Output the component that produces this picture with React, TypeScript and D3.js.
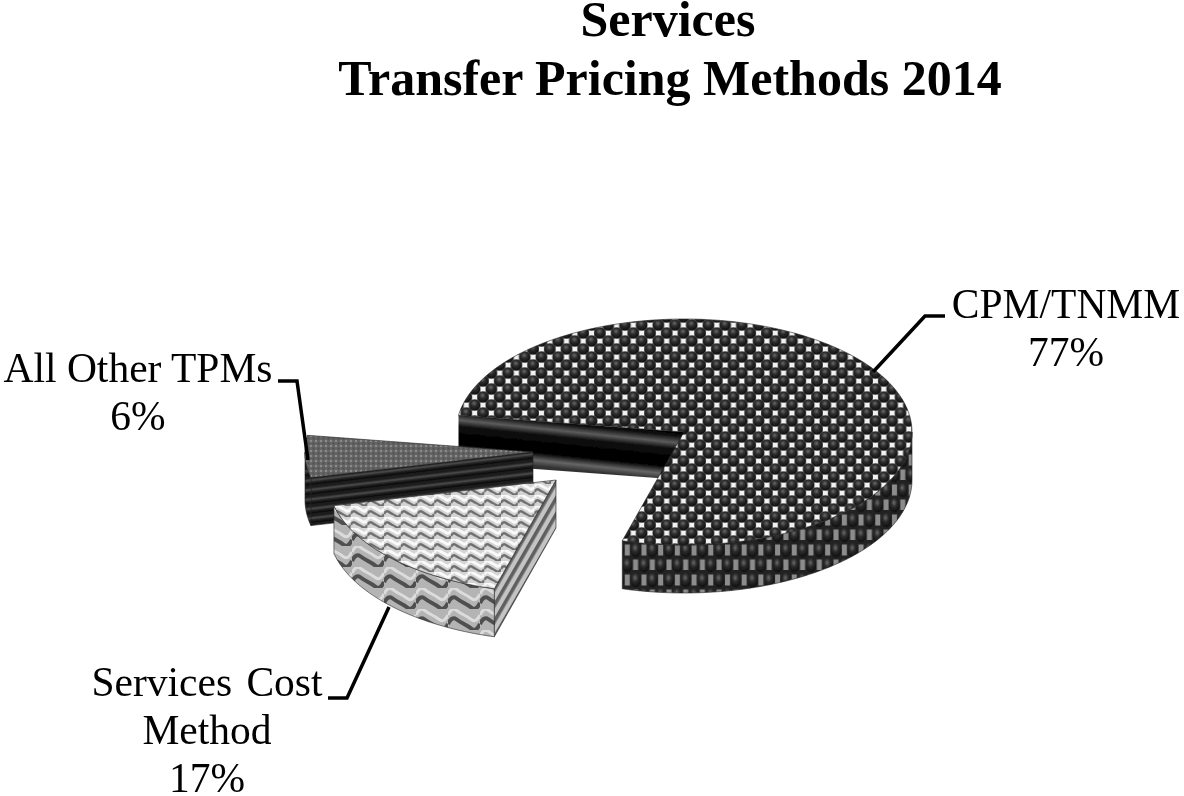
import React from "react";
import * as d3 from "d3";

const categories = ["CPM/TNMM", "Services Cost Method", "All Other TPMs"];
const shares = [77, 17, 6];
const titleLines = ["Services", "Transfer Pricing Methods 2014"];

const rad = Math.PI / 180;
const cx = 684, cy = 432, rx = 228, ry = 113, depth = 48;
const offsets = [[0, 0], [-128, 48], [-151, 20]];
const topFill = ["url(#dotTop)", "url(#waveTop)", "url(#fineTop)"];
const sideFill = ["url(#dotSide)", "url(#waveSide)", "url(#ribSide)"];
const cutFill = ["url(#cutBands)", "url(#cutStripes)", "url(#ribSide)"];
const drawOrder = [0, 2, 1];
const serif = "'Liberation Serif', 'Times New Roman', serif";

const pie = d3.pie<number>().sort(null).startAngle(-81.5 * rad).endAngle(278.5 * rad);
const slices = pie(shares);
const line = d3.line();

const rim = (a: number, ox: number, oy: number, dz = 0): [number, number] => [
  cx + ox + rx * Math.sin(a),
  cy + oy - ry * Math.cos(a) + dz,
];
const sweep = (a0: number, a1: number, ox: number, oy: number, dz = 0) => {
  const n = Math.max(2, Math.ceil((a1 - a0) / (1 * rad)));
  return d3.range(n + 1).map((i) => rim(a0 + ((a1 - a0) * i) / n, ox, oy, dz));
};

const labels = [
  { lines: ["CPM/TNMM", "77%"], x: 1066, y: 318, leader: [[873, 372], [925, 316], [945, 316]] },
  { lines: ["All Other TPMs", "6%"], x: 138, y: 382, leader: [[308, 460], [297, 381], [278, 381]] },
  { lines: ["Services Cost", "Method", "17%"], x: 207, y: 696, leader: [[389, 607], [347, 698], [328, 698]] },
];

export default function App() {
  const wave = (y: number, w: number, a: number) =>
    `M0 ${y} Q${w / 8} ${y - a * 1.6} ${w / 4} ${y - a} T${w / 2} ${y} T${(3 * w) / 4} ${y + a} T${w} ${y}`;
  return (
    <svg width={1184} height={796} style={{ position: "absolute", left: 0, top: 0, background: "#fff" }}>
      <defs>
        <filter id="soft" x="0" y="0" width="100%" height="100%" filterUnits="objectBoundingBox">
          <feGaussianBlur stdDeviation={0.7} />
        </filter>
        <radialGradient id="ball" cx="45%" cy="35%" r="60%">
          <stop offset="0" stopColor="#6a6a6a" />
          <stop offset="0.45" stopColor="#2c2c2c" />
          <stop offset="1" stopColor="#111" />
        </radialGradient>
        <pattern id="dotTop" width={16.7} height={16} patternUnits="userSpaceOnUse" patternTransform="translate(15.4,5)">
          <rect width={16.7} height={16} fill="#5a5a5a" />
          <rect x={-2.5} y={-2.5} width={5} height={5} fill="#f2f2f2" />
          <rect x={14.2} y={-2.5} width={5} height={5} fill="#f2f2f2" />
          <rect x={-2.5} y={13.5} width={5} height={5} fill="#f2f2f2" />
          <rect x={14.2} y={13.5} width={5} height={5} fill="#f2f2f2" />
          <rect x={5.85} y={5.5} width={5} height={5} fill="#f2f2f2" />
          <circle cx={8.35} cy={0} r={5.6} fill="url(#ball)" />
          <circle cx={8.35} cy={16} r={5.6} fill="url(#ball)" />
          <circle cx={0} cy={8} r={5.6} fill="url(#ball)" />
          <circle cx={16.7} cy={8} r={5.6} fill="url(#ball)" />
        </pattern>
        <pattern id="dotSide" width={16.7} height={30} patternUnits="userSpaceOnUse">
          <rect width={16.7} height={30} fill="#242424" />
          <rect x={6.9} y={4.5} width={5} height={11} fill="#8c8c8c" />
          <rect x={-1.5} y={19.5} width={5} height={11} fill="#8c8c8c" />
          <rect x={15.2} y={19.5} width={5} height={11} fill="#8c8c8c" />
          <ellipse cx={1} cy={10} rx={5.2} ry={7.5} fill="url(#ball)" />
          <ellipse cx={17.7} cy={10} rx={5.2} ry={7.5} fill="url(#ball)" />
          <ellipse cx={9.4} cy={25} rx={5.2} ry={7.5} fill="url(#ball)" />
          <ellipse cx={9.4} cy={-5} rx={5.2} ry={7.5} fill="url(#ball)" />
        </pattern>
        <linearGradient id="cutBands" gradientUnits="userSpaceOnUse" x1={570} y1={421} x2={565} y2={469}>
          <stop offset="0" stopColor="#000" />
          <stop offset="0.08" stopColor="#111" />
          <stop offset="0.22" stopColor="#5c5c5c" />
          <stop offset="0.36" stopColor="#0a0a0a" />
          <stop offset="0.72" stopColor="#000" />
          <stop offset="0.88" stopColor="#666" />
          <stop offset="1" stopColor="#333" />
        </linearGradient>
        <pattern id="waveTop" width={16.7} height={11} patternUnits="userSpaceOnUse">
          <rect width={16.7} height={11} fill="#d4d4d4" />
          <path d={wave(2.5, 16.7, 2.4)} fill="none" stroke="#fafafa" strokeWidth={3} />
          <path d={wave(8, 16.7, 2.4)} fill="none" stroke="#6e6e6e" strokeWidth={2.4} />
        </pattern>
        <pattern id="waveSide" width={32} height={21} patternUnits="userSpaceOnUse">
          <rect width={32} height={21} fill="#b4b4b4" />
          <path d={wave(6, 32, 5)} fill="none" stroke="#dcdcdc" strokeWidth={3} />
          <path d={wave(15, 32, 5)} fill="none" stroke="#505050" strokeWidth={4} />
        </pattern>
        <pattern id="cutStripes" width={8} height={8} patternUnits="userSpaceOnUse" patternTransform="rotate(-60)">
          <rect width={8} height={8} fill="#c4c4c4" />
          <rect y={1} width={8} height={3.6} fill="#5e5e5e" />
        </pattern>
        <pattern id="fineTop" width={5} height={5} patternUnits="userSpaceOnUse">
          <rect width={5} height={5} fill="#656565" />
          <rect x={0} y={0} width={2} height={2} fill="#8a8a8a" />
          <rect x={2.5} y={2.5} width={2} height={2} fill="#505050" />
        </pattern>
        <pattern id="ribSide" width={10} height={9.5} patternUnits="userSpaceOnUse" patternTransform="skewY(-6.7)">
          <rect width={10} height={9.5} fill="#1e1e1e" />
          <rect y={2.5} width={10} height={2.6} fill="#444" />
          <rect y={7} width={10} height={1.6} fill="#0c0c0c" />
        </pattern>
      </defs>

      <g filter="url(#soft)">
        <rect width={1184} height={796} fill="#fff" />
        {titleLines.map((t, i) => (
          <text key={t} x={i === 0 ? 668 : 670} y={36 + i * 59} textAnchor="middle" fontFamily={serif} fontWeight="bold" fontSize={50} fill="#000">
            {t}
          </text>
        ))}

        {drawOrder.map((i) => {
          const s = slices[i];
          const [ox, oy] = offsets[i];
          const tip: [number, number] = [cx + ox, cy + oy];
          const a0 = s.startAngle, a1 = s.endAngle;
          const tipLow: [number, number] = [tip[0], tip[1] + depth];
          const vis0 = Math.max(a0, 90 * rad), vis1 = Math.min(a1, 270 * rad);
          const outer = [...sweep(vis0, vis1, ox, oy), ...sweep(vis0, vis1, ox, oy, depth).reverse()];
          const cut = [tip, rim(a0, ox, oy), rim(a0, ox, oy, depth), tipLow] as [number, number][];
          const top = [tip, ...sweep(a0, a1, ox, oy)];
          return (
            <g key={categories[i]} stroke="#222" strokeWidth={0.6} strokeLinejoin="round">
              <path d={line(cut) + "Z"} fill={cutFill[i]} stroke={i === 0 ? "none" : "#222"} />
              <path d={line(outer as [number, number][]) + "Z"} fill={sideFill[i]} />
              <path d={line(top as [number, number][]) + "Z"} fill={topFill[i]} />
            </g>
          );
        })}

        {labels.map((l) => (
          <g key={l.lines[0]}>
            <path d={line(l.leader as [number, number][]) ?? ""} fill="none" stroke="#000" strokeWidth={3.5} />
            {l.lines.map((t, j) => (
              <text key={t} x={l.x} y={l.y + j * 48} textAnchor="middle" fontFamily={serif} fontSize={41.5} fill="#000" wordSpacing={t === "Services Cost" ? 4 : 0}>
                {t}
              </text>
            ))}
          </g>
        ))}
      </g>
    </svg>
  );
}
